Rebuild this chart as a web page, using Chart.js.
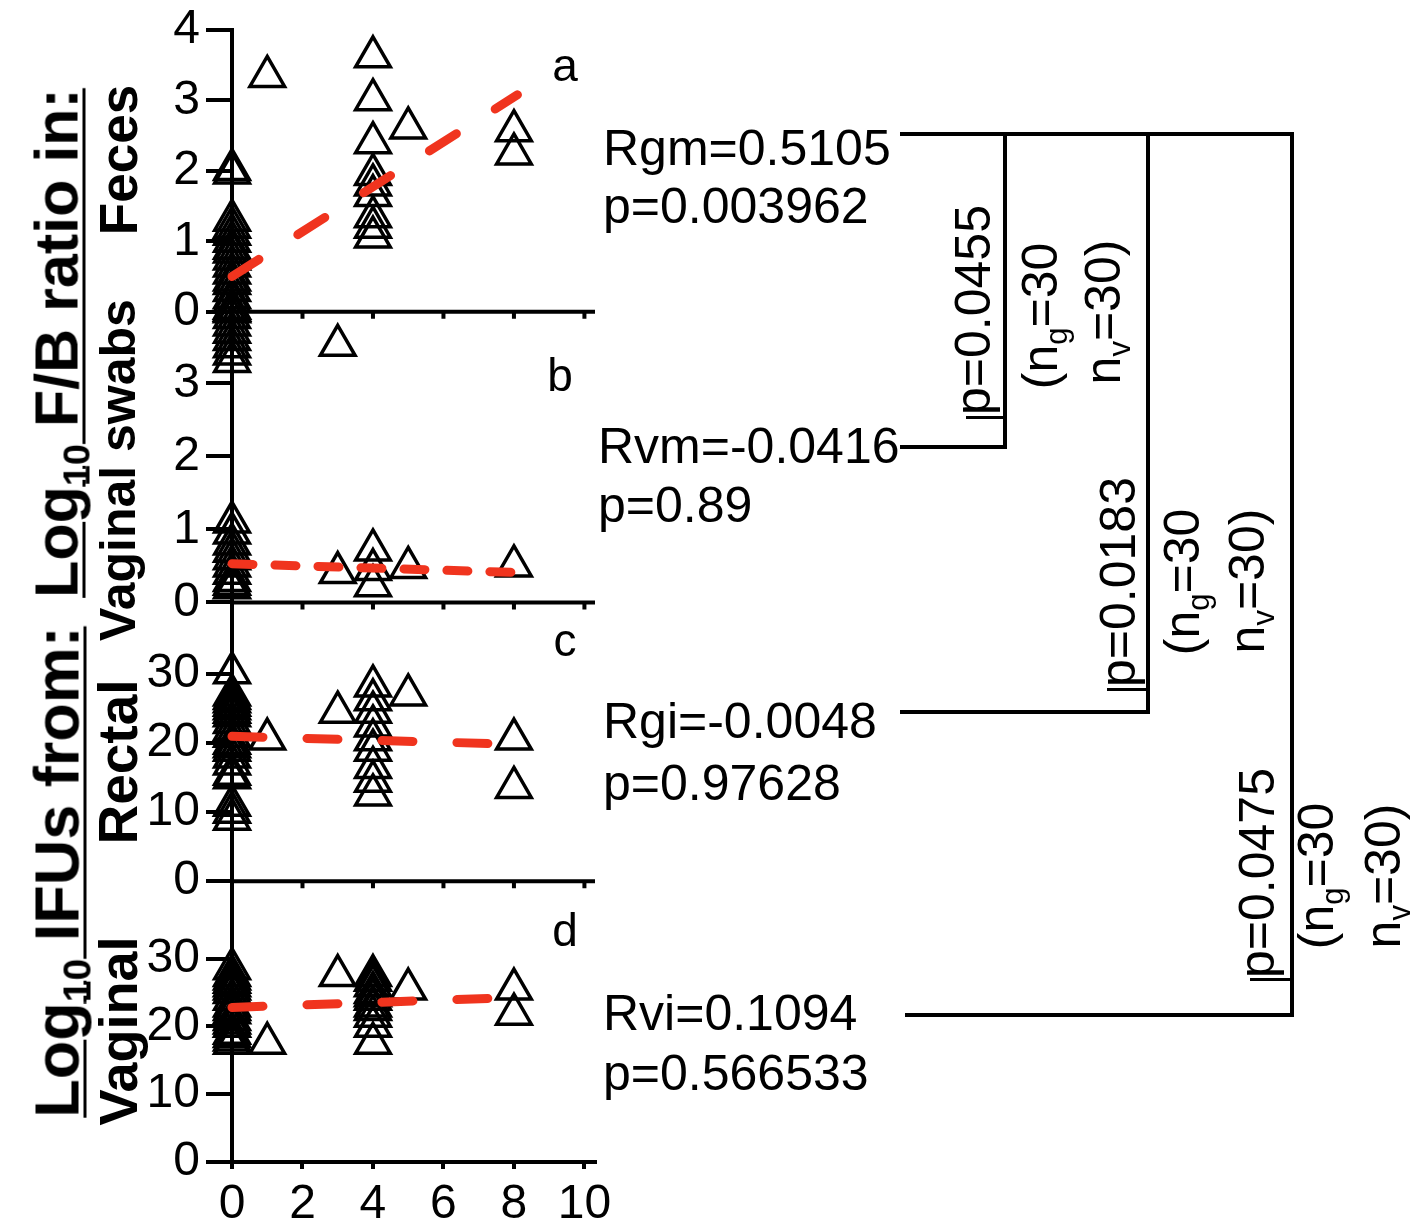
<!DOCTYPE html>
<html>
<head>
<meta charset="utf-8">
<script src="https://cdn.jsdelivr.net/npm/chart.js@4.4.1/dist/chart.umd.min.js"></script>
<style>
    html, body { margin: 0; padding: 0; background: #fff; }
    #wrap { position: relative; width: 1418px; height: 1232px; overflow: hidden;
            font-family: "Liberation Sans", Arial, sans-serif; color: #000; }
    #chart { position: absolute; left: 0; top: 0; }
    .t { position: absolute; white-space: nowrap; line-height: 1; }
    .c { transform: translate(-50%, -50%); }
    .rot { transform: translate(-50%, -50%) rotate(-90deg); }
    .b { font-weight: bold; }
    .ul { text-decoration: underline; text-decoration-thickness: 3px; text-underline-offset: 5px; }
    .ln { position: absolute; background: #000; }
    sub { font-size: 62%; vertical-align: baseline; position: relative; top: 0.32em; }
</style>
</head>
<body>
<div id="wrap">
    <canvas id="chart" width="1418" height="1232"></canvas>

    <!-- left axis titles -->
    <div class="t rot b ul" style="left:57px;top:343px;font-size:61px">Log<sub>10</sub> F/B ratio in:</div>
    <div class="t rot b" style="left:118px;top:160px;font-size:53px">Feces</div>
    <div class="t rot b" style="left:118px;top:470px;font-size:50px">Vaginal swabs</div>
    <div class="t rot b ul" style="left:57px;top:872px;font-size:63px">Log<sub>10</sub> IFUs from:</div>
    <div class="t rot b" style="left:118px;top:762px;font-size:55px">Rectal</div>
    <div class="t rot b" style="left:118px;top:1031px;font-size:54px">Vaginal</div>

    <!-- panel letters -->
    <div class="t c" style="left:565px;top:65px;font-size:46px">a</div>
    <div class="t c" style="left:560px;top:375px;font-size:46px">b</div>
    <div class="t c" style="left:565px;top:640px;font-size:46px">c</div>
    <div class="t c" style="left:565px;top:930px;font-size:46px">d</div>

    <!-- correlation results -->
    <div class="t" style="left:603px;top:123px;font-size:50px">Rgm=0.5105</div>
    <div class="t" style="left:603px;top:181px;font-size:50px">p=0.003962</div>
    <div class="t" style="left:598px;top:421px;font-size:50px">Rvm=-0.0416</div>
    <div class="t" style="left:598px;top:480px;font-size:50px">p=0.89</div>
    <div class="t" style="left:603px;top:696px;font-size:50px">Rgi=-0.0048</div>
    <div class="t" style="left:603px;top:758px;font-size:50px">p=0.97628</div>
    <div class="t" style="left:603px;top:988px;font-size:50px">Rvi=0.1094</div>
    <div class="t" style="left:603px;top:1048px;font-size:50px">p=0.566533</div>

    <!-- comparison brackets -->
    <div class="ln" style="left:900px;top:132px;width:394px;height:4px"></div>
    <div class="ln" style="left:1003px;top:132px;width:4px;height:317px"></div>
    <div class="ln" style="left:900px;top:445px;width:107px;height:4px"></div>
    <div class="ln" style="left:1146px;top:132px;width:4px;height:582px"></div>
    <div class="ln" style="left:900px;top:710px;width:250px;height:4px"></div>
    <div class="ln" style="left:1290px;top:132px;width:4px;height:885px"></div>
    <div class="ln" style="left:905px;top:1013px;width:389px;height:4px"></div>
    <div class="ln" style="left:966px;top:416px;width:40px;height:3px"></div>
    <div class="ln" style="left:1107px;top:688px;width:42px;height:3px"></div>
    <div class="ln" style="left:1250px;top:978px;width:42px;height:3px"></div>

    <div class="t rot" style="left:973px;top:310px;font-size:50px">p=0.0455</div>
    <div class="t rot" style="left:1040px;top:316px;font-size:50px">(n<sub>g</sub>=30</div>
    <div class="t rot" style="left:1103px;top:312px;font-size:50px">n<sub>v</sub>=30)</div>
    <div class="t rot" style="left:1118px;top:582px;font-size:50px">p=0.0183</div>
    <div class="t rot" style="left:1182px;top:582px;font-size:50px">(n<sub>g</sub>=30</div>
    <div class="t rot" style="left:1247px;top:581px;font-size:50px">n<sub>v</sub>=30)</div>
    <div class="t rot" style="left:1257px;top:873px;font-size:50px">p=0.0475</div>
    <div class="t rot" style="left:1316px;top:876px;font-size:50px">(n<sub>g</sub>=30</div>
    <div class="t rot" style="left:1383px;top:876px;font-size:50px">n<sub>v</sub>=30)</div>
</div>

<script>
const FONT = '"Liberation Sans", Arial, sans-serif';
const RED = 'rgb(240, 52, 30)';

// tick labels
const xTicks = [0, 2, 4, 6, 8, 10];
const fbTicks = [0, 1, 2, 3, 4];
const swabTicks = [0, 1, 2, 3];
const ifuTicks = [0, 10, 20, 30];

// [day, values] - log10 F/B ratio in feces
const feces = [
    [0, [2.02, 1.97, 1.3, 1.2, 1.1, 1.0, 0.9, 0.85, 0.75, 0.65, 0.55, 0.45, 0.4, 0.3, 0.2, 0.15, 0.05, 0.0]],
    [1, [3.34]],
    [4, [3.62, 3.01, 2.4, 1.95, 1.8, 1.65, 1.35, 1.2, 1.06]],
    [5, [2.61]],
    [8, [2.57, 2.24]]
];
// log10 F/B ratio in vaginal swabs
const swabs = [
    [0, [4.0, 3.9, 3.8, 3.7, 3.6, 3.5, 3.4, 3.3, 1.1, 0.95, 0.8, 0.7, 0.6, 0.5, 0.4, 0.3, 0.25, 0.2]],
    [3, [3.52, 0.41]],
    [4, [0.72, 0.45, 0.23]],
    [5, [0.48]],
    [8, [0.5]]
];
// log10 IFUs, rectal
const rectal = [
    [0, [30.2, 27, 26.5, 26, 25.5, 25, 24.5, 24, 23, 22, 21, 20, 19.5, 19, 18, 17, 15.5, 15, 11, 10, 9]],
    [1, [20.6]],
    [3, [24.5]],
    [4, [28.3, 26.3, 24.5, 22.5, 20.5, 19, 16.5, 14.5, 12.5]],
    [5, [27]],
    [8, [20.6, 13.6]]
];
// log10 IFUs, vaginal
const vaginal = [
    [0, [28.5, 27.5, 27, 26.5, 26, 25.5, 25, 24, 23, 22.5, 22, 21, 20.5, 20, 19, 18.5, 18, 17.5]],
    [1, [17.5]],
    [3, [27.5]],
    [4, [27.5, 26.8, 26, 25, 24.5, 24, 23, 22.5, 21.5, 20, 17.5]],
    [5, [25.5]],
    [8, [25.5, 21.8]]
];

// regression line end points
const fecesFit = [[0, 0.5], [8.1, 3.08]];
const swabsFit = [[0, 0.53], [8.1, 0.41]];
const rectalFit = [[0, 21.0], [7.7, 19.9]];
const vaginalFit = [[0, 22.8], [7.7, 24.2]];

const pts = groups => groups.flatMap(([x, ys]) => ys.map(y => ({ x, y })));
const line = pairs => pairs.map(([x, y]) => ({ x, y }));

function scatter(data, axis) {
    return {
        type: 'scatter', data: pts(data), yAxisID: axis, order: 2, clip: false,
        pointStyle: 'triangle', pointRadius: 20, pointBorderWidth: 3.5,
        pointBorderColor: '#000', pointBackgroundColor: 'rgba(0,0,0,0)', showLine: false
    };
}

function fit(data, axis, dash) {
    return {
        type: 'line', data: line(data), yAxisID: axis, order: 1, clip: false,
        borderColor: RED, borderWidth: 9, borderDash: dash, borderCapStyle: 'round',
        pointRadius: 0, fill: false, tension: 0
    };
}

function yScale(max, ticks, weight, stackWeight) {
    return {
        type: 'linear', position: 'left', stack: 'panels', stackWeight, weight,
        min: 0, max,
        afterBuildTicks: s => { s.ticks = ticks.map(v => ({ value: v })); },
        afterFit: s => { s.width = 120; },
        border: { color: '#000', width: 4 },
        grid: { drawOnChartArea: false, color: '#000', lineWidth: 4, tickLength: 26 },
        ticks: { color: '#000', padding: 6, autoSkip: false,
                 font: { family: FONT, size: 48, lineHeight: 1 } }
    };
}

// bottom lines of the upper three panels, with their small day ticks
const panelLines = {
    id: 'panelLines',
    beforeDatasetsDraw(chart) {
        const { ctx, chartArea, scales } = chart;
        ctx.save();
        ctx.strokeStyle = '#000';
        ctx.lineWidth = 4;
        ['ya', 'yb', 'yc'].forEach(id => {
            const y = scales[id].getPixelForValue(0);
            ctx.beginPath();
            ctx.moveTo(chartArea.left, y);
            ctx.lineTo(chartArea.right, y);
            xTicks.forEach(v => {
                const x = scales.x.getPixelForValue(v);
                ctx.moveTo(x, y);
                ctx.lineTo(x, y + 7);
            });
            ctx.stroke();
        });
        ctx.restore();
    }
};

new Chart(document.getElementById('chart'), {
    type: 'scatter',
    data: {
        datasets: [
            fit(fecesFit, 'ya', [32, 46]),
            fit(swabsFit, 'yb', [21, 22]),
            fit(rectalFit, 'yc', [31, 44]),
            fit(vaginalFit, 'yd', [31, 44]),
            scatter(feces, 'ya'),
            scatter(swabs, 'yb'),
            scatter(rectal, 'yc'),
            scatter(vaginal, 'yd')
        ]
    },
    options: {
        responsive: false, animation: false, devicePixelRatio: 1,
        layout: { padding: { left: 112, right: 823, top: 25, bottom: 0 } },
        plugins: { legend: { display: false }, tooltip: { enabled: false } },
        scales: {
            x: {
                type: 'linear', position: 'bottom', min: 0, max: 10.3,
                afterBuildTicks: s => { s.ticks = xTicks.map(v => ({ value: v })); },
                afterFit: s => { s.height = 70; },
                border: { color: '#000', width: 4 },
                grid: { drawOnChartArea: false, color: '#000', lineWidth: 4, tickLength: 7 },
                ticks: { color: '#000', padding: 12, maxRotation: 0, autoSkip: false,
                         font: { family: FONT, size: 48, lineHeight: 1 } }
            },
            ya: yScale(4, fbTicks, 4, 283),
            yb: yScale(3.98, swabTicks, 3, 292),
            yc: yScale(40.4, ifuTicks, 2, 280),
            yd: yScale(41.4, ifuTicks, 1, 282)
        }
    },
    plugins: [panelLines]
});
</script>
</body>
</html>
